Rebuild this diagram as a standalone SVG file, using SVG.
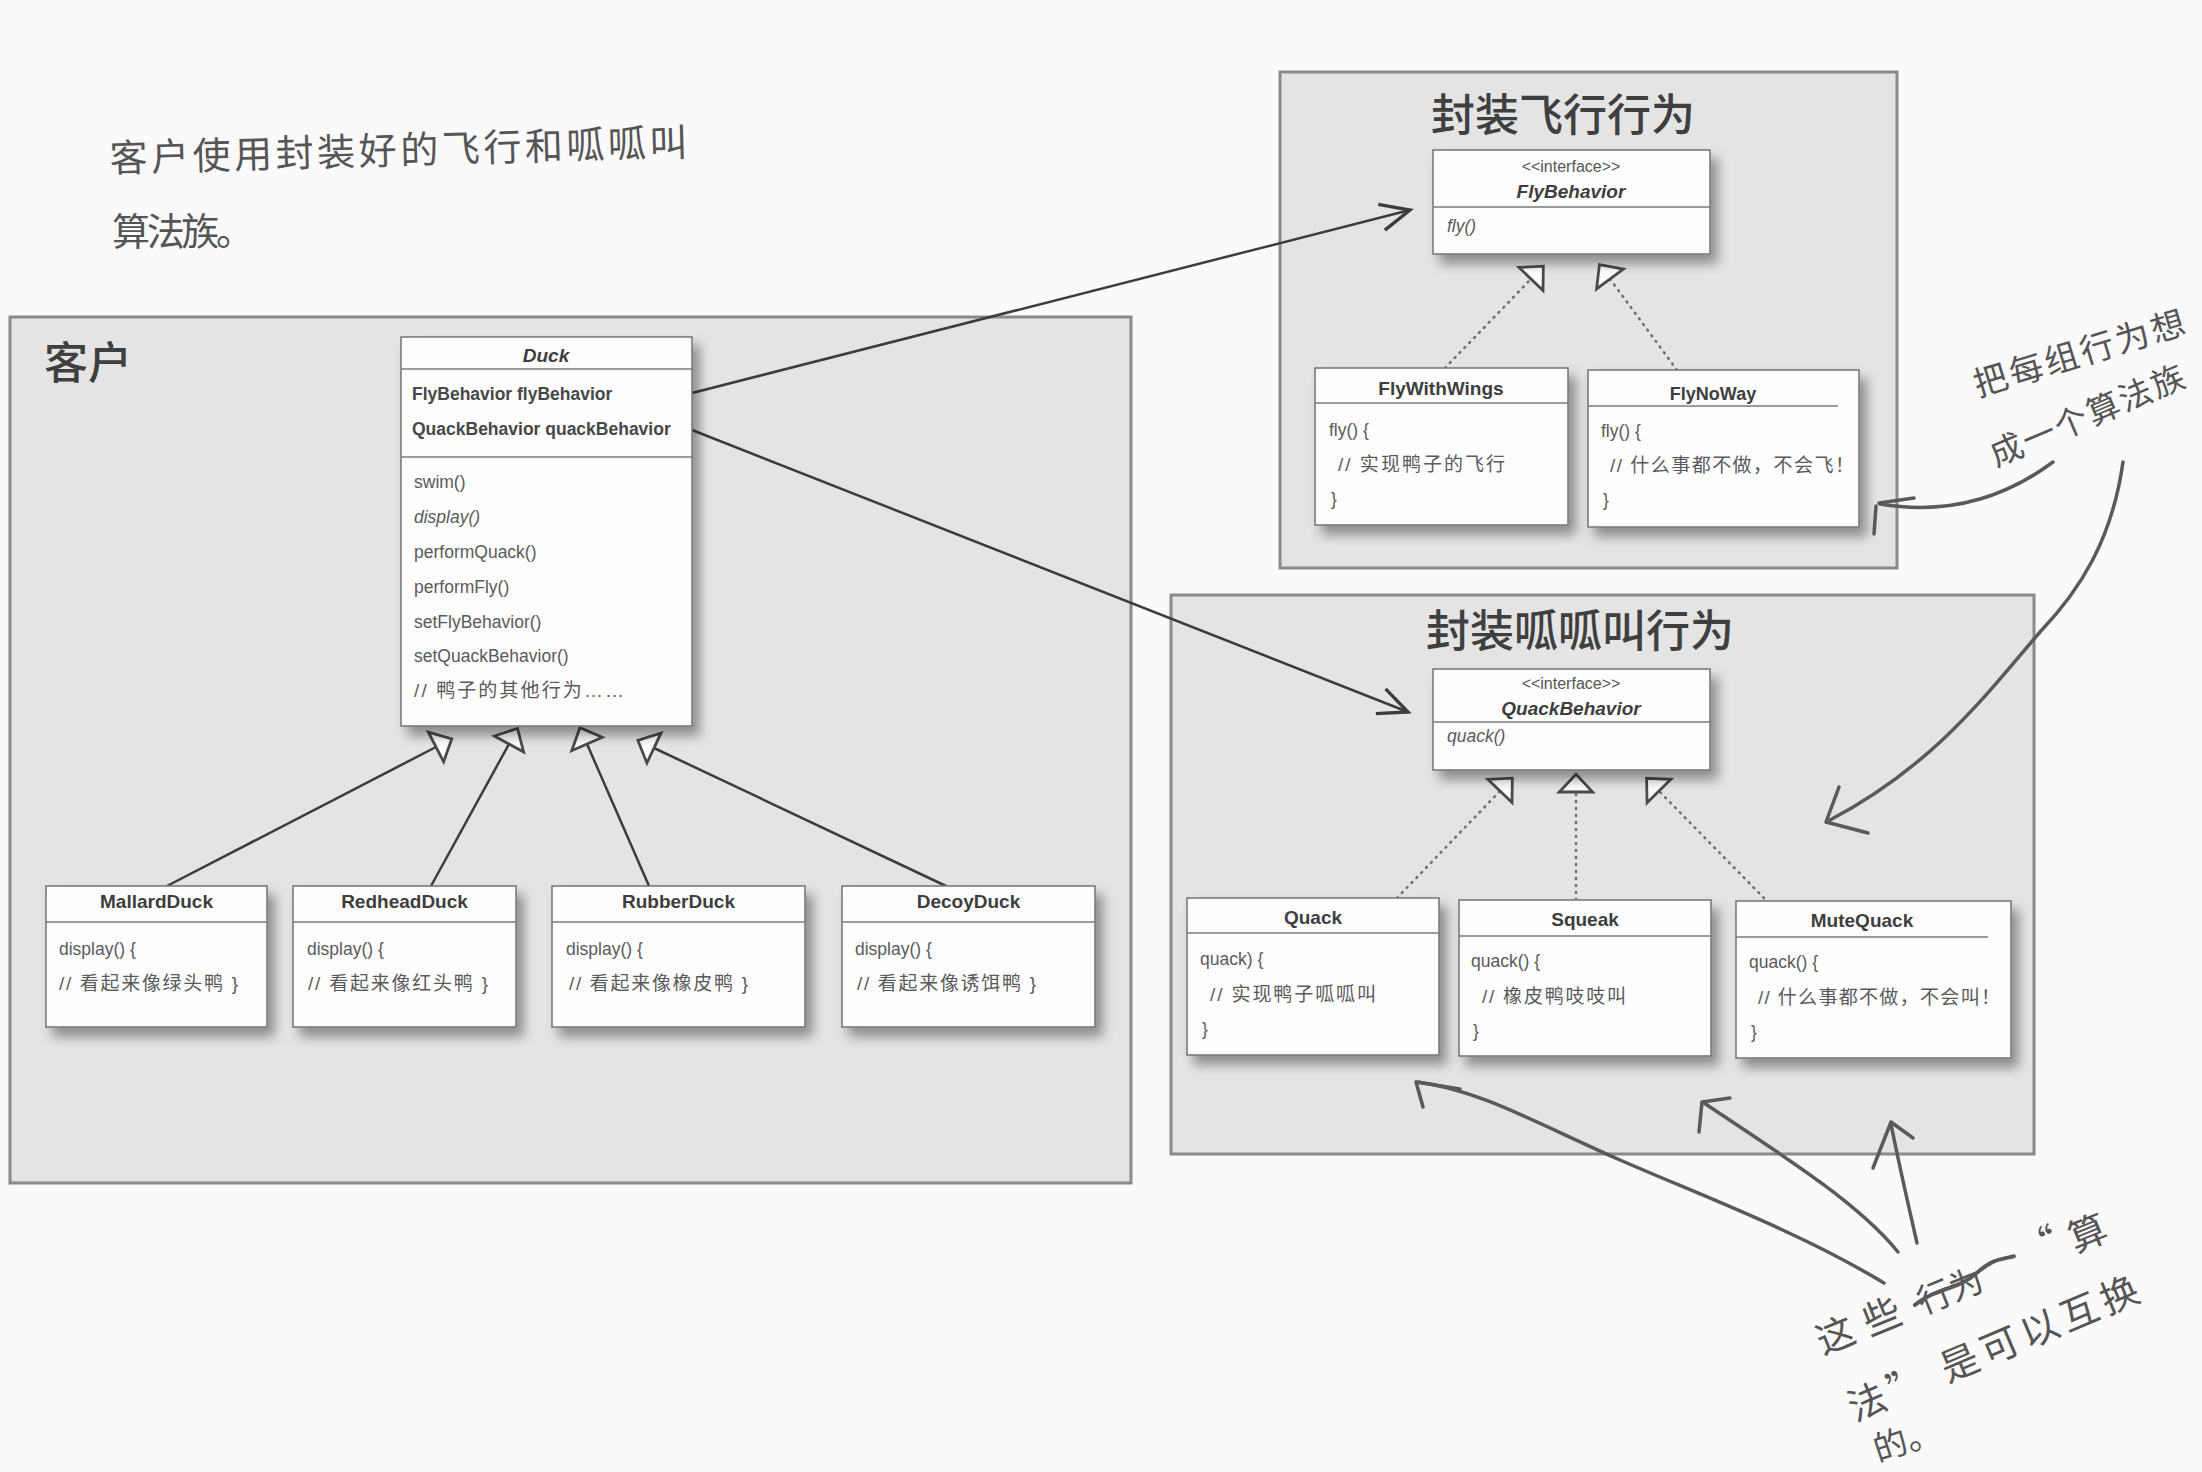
<svg xmlns="http://www.w3.org/2000/svg" width="2202" height="1472" viewBox="0 0 2202 1472">
  <style>
    .panel { fill: #e4e4e4; stroke: #8a8a8a; stroke-width: 3; }
    .box { fill: #fdfdfd; stroke: #7a7a7a; stroke-width: 1.6; filter: url(#shadow); }
    .div { stroke: #7a7a7a; stroke-width: 1.6; }
    .nm { font-family: "Liberation Sans", Arial, "Noto Sans CJK SC", sans-serif; font-size: 19px; font-weight: bold; fill: #3e3e3e; text-anchor: middle; }
    .st { font-family: "Liberation Sans", Arial, sans-serif; font-size: 16px; fill: #555; text-anchor: middle; }
    .at { font-family: "Liberation Sans", Arial, sans-serif; font-size: 17.5px; font-weight: bold; fill: #474747; }
    .bd { font-family: "Liberation Sans", Arial, "Noto Sans CJK SC", sans-serif; font-size: 17.5px; fill: #5a5a5a; }
    .cm { font-family: "Liberation Sans", Arial, "Noto Sans CJK SC", sans-serif; font-size: 19px; fill: #5a5a5a; }
    .it { font-style: italic; }
    .ttl { font-family: "Noto Sans CJK SC", "Liberation Sans", sans-serif; font-size: 44px; font-weight: 500; fill: #3f3f3f; }
    .hand { font-family: "Noto Sans CJK SC", sans-serif; font-size: 38px; font-weight: 400; fill: #555; }
    .conn { fill: none; stroke: #3c3c3c; stroke-width: 2.5; }
    .dot { fill: none; stroke: #707070; stroke-width: 2.6; stroke-dasharray: 1 6; stroke-linecap: round; }
    .pen { fill: none; stroke: #5a5a5a; stroke-width: 3.5; stroke-linecap: round; stroke-linejoin: round; }
  </style>
  <defs>
    <filter id="shadow" x="-15%" y="-15%" width="140%" height="140%">
      <feDropShadow dx="7" dy="9" stdDeviation="6" flood-color="#000" flood-opacity="0.38"/>
    </filter>
    <!-- hollow triangle for generalization / realization -->
    <marker id="tri" markerUnits="userSpaceOnUse" markerWidth="40" markerHeight="40" refX="0" refY="0" viewBox="-2 -18 22 36" orient="auto" overflow="visible">
      <path d="M0,-15 L16,0 L0,15 Z" fill="#fdfdfd" stroke="#4a4a4a" stroke-width="2.5" stroke-linejoin="miter"/>
    </marker>
    <!-- open arrowhead for associations -->
    <marker id="open" markerUnits="userSpaceOnUse" markerWidth="40" markerHeight="40" refX="0" refY="0" viewBox="-26 -14 30 28" orient="auto" overflow="visible">
      <path d="M-22,-10 L0,0 L-22,10" fill="none" stroke="#3c3c3c" stroke-width="2.5" stroke-linejoin="miter"/>
    </marker>
  </defs>

  <rect x="0" y="0" width="2202" height="1472" fill="#fafafa"/>

  <!-- handwritten note, top left -->
  <g id="note-client">
    <text class="hand" x="110" y="172" textLength="578" transform="rotate(-1.6 110 172)">客户使用封装好的飞行和呱呱叫</text>
    <text class="hand" x="112" y="245" textLength="142">算法族。</text>
  </g>

  <!-- panels -->
  <g id="panel-client">
    <rect class="panel" x="10" y="317" width="1121" height="866"/>
    <text class="ttl" x="44" y="379">客户</text>
  </g>
  <g id="panel-fly">
    <rect class="panel" x="1280" y="72" width="617" height="496"/>
    <text class="ttl" x="1563" y="131" text-anchor="middle">封装飞行行为</text>
  </g>
  <g id="panel-quack">
    <rect class="panel" x="1171" y="595" width="863" height="559"/>
    <text class="ttl" x="1580" y="647" text-anchor="middle">封装呱呱叫行为</text>
  </g>

  <!-- connectors -->
  <g id="connectors">
    <line class="conn" x1="167" y1="886" x2="436" y2="747" marker-end="url(#tri)"/>
    <line class="conn" x1="431" y1="886" x2="509" y2="744" marker-end="url(#tri)"/>
    <line class="conn" x1="649" y1="886" x2="587" y2="744" marker-end="url(#tri)"/>
    <line class="conn" x1="946" y1="886" x2="654" y2="748" marker-end="url(#tri)"/>
    <line class="conn" x1="692" y1="393" x2="1410" y2="210" marker-end="url(#open)"/>
    <line class="conn" x1="692" y1="430" x2="1408" y2="712" marker-end="url(#open)"/>
    <line class="dot" x1="1445" y1="368" x2="1531" y2="279" marker-end="url(#tri)"/>
    <line class="dot" x1="1677" y1="370" x2="1610" y2="279" marker-end="url(#tri)"/>
    <line class="dot" x1="1397" y1="898" x2="1500" y2="791" marker-end="url(#tri)"/>
    <line class="dot" x1="1576" y1="900" x2="1576" y2="792" marker-end="url(#tri)"/>
    <line class="dot" x1="1764" y1="898" x2="1659" y2="791" marker-end="url(#tri)"/>
  </g>

  <!-- Duck -->
  <g id="duck">
    <rect class="box" x="401" y="337" width="291" height="389"/>
    <line class="div" x1="401" y1="369" x2="692" y2="369"/>
    <line class="div" x1="401" y1="457" x2="692" y2="457"/>
    <text class="nm it" x="546" y="362">Duck</text>
    <text class="at" x="412" y="400">FlyBehavior flyBehavior</text>
    <text class="at" x="412" y="435">QuackBehavior quackBehavior</text>
    <text class="bd" x="414" y="488">swim()</text>
    <text class="bd it" x="414" y="523">display()</text>
    <text class="bd" x="414" y="558">performQuack()</text>
    <text class="bd" x="414" y="593">performFly()</text>
    <text class="bd" x="414" y="628">setFlyBehavior()</text>
    <text class="bd" x="414" y="662">setQuackBehavior()</text>
    <text class="cm" x="414" y="697" textLength="210">// 鸭子的其他行为……</text>
  </g>

  <g id="mallard-duck">
    <rect class="box" x="46" y="886" width="221" height="141"/>
    <line class="div" x1="46" y1="922" x2="267" y2="922"/>
    <text class="nm" x="156.5" y="908">MallardDuck</text>
    <text class="bd" x="59" y="955">display() {</text>
    <text class="cm" x="59" y="990" textLength="179">// 看起来像绿头鸭 }</text>
  </g>
  <g id="redhead-duck">
    <rect class="box" x="293" y="886" width="223" height="141"/>
    <line class="div" x1="293" y1="922" x2="516" y2="922"/>
    <text class="nm" x="404.5" y="908">RedheadDuck</text>
    <text class="bd" x="307" y="955">display() {</text>
    <text class="cm" x="308" y="990" textLength="180">// 看起来像红头鸭 }</text>
  </g>
  <g id="rubber-duck">
    <rect class="box" x="552" y="886" width="253" height="141"/>
    <line class="div" x1="552" y1="922" x2="805" y2="922"/>
    <text class="nm" x="678.5" y="908">RubberDuck</text>
    <text class="bd" x="566" y="955">display() {</text>
    <text class="cm" x="569" y="990" textLength="179">// 看起来像橡皮鸭 }</text>
  </g>
  <g id="decoy-duck">
    <rect class="box" x="842" y="886" width="253" height="141"/>
    <line class="div" x1="842" y1="922" x2="1095" y2="922"/>
    <text class="nm" x="968.5" y="908">DecoyDuck</text>
    <text class="bd" x="855" y="955">display() {</text>
    <text class="cm" x="857" y="990" textLength="179">// 看起来像诱饵鸭 }</text>
  </g>

  <!-- fly behaviours -->
  <g id="fly-behavior">
    <rect class="box" x="1433" y="150" width="277" height="104"/>
    <line class="div" x1="1433" y1="207" x2="1710" y2="207"/>
    <text class="st" x="1571" y="172">&lt;&lt;interface&gt;&gt;</text>
    <text class="nm it" x="1571" y="198">FlyBehavior</text>
    <text class="bd it" x="1447" y="232">fly()</text>
  </g>
  <g id="fly-with-wings">
    <rect class="box" x="1315" y="368" width="253" height="157"/>
    <line class="div" x1="1315" y1="403" x2="1568" y2="403"/>
    <text class="nm" x="1441" y="395">FlyWithWings</text>
    <text class="bd" x="1329" y="436">fly() {</text>
    <text class="cm" x="1338" y="471" textLength="167">// 实现鸭子的飞行</text>
    <text class="bd" x="1331" y="505">}</text>
  </g>
  <g id="fly-no-way">
    <rect class="box" x="1588" y="370" width="271" height="157"/>
    <line class="div" x1="1588" y1="406" x2="1838" y2="406"/>
    <text class="nm" x="1713" y="400" style="font-size:18px">FlyNoWay</text>
    <text class="bd" x="1601" y="437">fly() {</text>
    <text class="cm" x="1610" y="472" textLength="244">// 什么事都不做，不会飞！</text>
    <text class="bd" x="1603" y="506">}</text>
  </g>

  <!-- quack behaviours -->
  <g id="quack-behavior">
    <rect class="box" x="1433" y="669" width="277" height="101"/>
    <line class="div" x1="1433" y1="722" x2="1710" y2="722"/>
    <text class="st" x="1571" y="689">&lt;&lt;interface&gt;&gt;</text>
    <text class="nm it" x="1571" y="715">QuackBehavior</text>
    <text class="bd it" x="1447" y="742">quack()</text>
  </g>
  <g id="quack">
    <rect class="box" x="1187" y="898" width="252" height="157"/>
    <line class="div" x1="1187" y1="933" x2="1439" y2="933"/>
    <text class="nm" x="1313" y="924">Quack</text>
    <text class="bd" x="1200" y="965">quack) {</text>
    <text class="cm" x="1210" y="1001" textLength="166">// 实现鸭子呱呱叫</text>
    <text class="bd" x="1202" y="1035">}</text>
  </g>
  <g id="squeak">
    <rect class="box" x="1459" y="900" width="252" height="156"/>
    <line class="div" x1="1459" y1="936" x2="1711" y2="936"/>
    <text class="nm" x="1585" y="926">Squeak</text>
    <text class="bd" x="1471" y="967">quack() {</text>
    <text class="cm" x="1482" y="1003" textLength="144">// 橡皮鸭吱吱叫</text>
    <text class="bd" x="1473" y="1037">}</text>
  </g>
  <g id="mute-quack">
    <rect class="box" x="1736" y="901" width="275" height="157"/>
    <line class="div" x1="1736" y1="937" x2="1988" y2="937"/>
    <text class="nm" x="1862" y="927">MuteQuack</text>
    <text class="bd" x="1749" y="968">quack() {</text>
    <text class="cm" x="1758" y="1004" textLength="242">// 什么事都不做，不会叫！</text>
    <text class="bd" x="1751" y="1038">}</text>
  </g>

  <!-- handwritten notes and pen arrows, right side -->
  <g id="note-family">
    <text class="hand" x="1978" y="397" transform="rotate(-17 1978 397)" style="font-size:34px;letter-spacing:3px">把每组行为想</text>
    <text class="hand" x="1996" y="467" transform="rotate(-23 1996 467)" style="font-size:33px;letter-spacing:2px">成一个算法族</text>
    <path class="pen" d="M2053,462 Q1975,520 1880,504"/>
    <path class="pen" d="M1914,498 L1879,503 M1876,506 L1874,534"/>
    <path class="pen" d="M2123,462 C2112,540 2080,590 2040,632 C1990,690 1935,765 1830,820"/>
    <path class="pen" d="M1839,787 L1826,822 L1868,833"/>
  </g>

  <g id="note-swap">
    <path class="pen" d="M1884,1283 C1800,1232 1700,1195 1620,1160 C1540,1125 1480,1090 1418,1082"/>
    <path class="pen" d="M1460,1089 L1416,1082 L1423,1107"/>
    <path class="pen" d="M1898,1252 C1860,1205 1790,1160 1704,1103"/>
    <path class="pen" d="M1730,1098 L1702,1102 L1699,1132"/>
    <path class="pen" d="M1917,1243 C1905,1190 1898,1160 1891,1124"/>
    <path class="pen" d="M1873,1168 L1891,1122 L1913,1138"/>
    <g transform="translate(1823 1355) rotate(-22)">
      <text class="hand" x="0" y="0">这</text>
      <text class="hand" x="50" y="0">些</text>
      <text class="hand" x="108" y="0" style="font-size:34px">行为</text>
      <path class="pen" d="M104,-12 C130,-20 150,-10 172,-18 S200,-22 214,-20" style="stroke-width:4"/>
      <text class="hand" x="222" y="-6">“</text>
      <text class="hand" x="272" y="0">算</text>
    </g>
    <text class="hand" x="1855" y="1422" transform="rotate(-23 1855 1422)" textLength="312">法” 是可以互换</text>
    <text class="hand" x="1878" y="1462" transform="rotate(-18 1878 1462)" style="font-size:34px">的。</text>
  </g>
</svg>
